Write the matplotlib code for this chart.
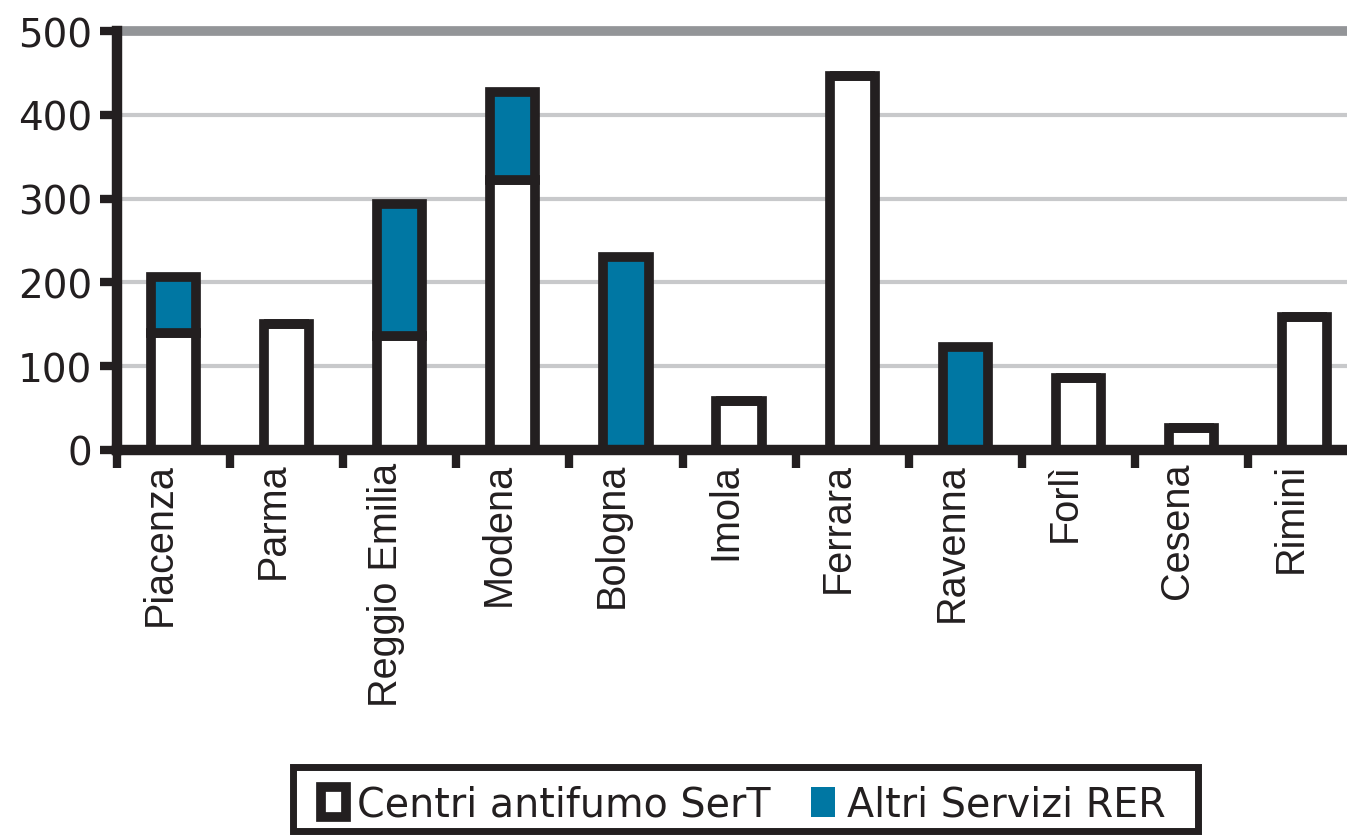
import matplotlib
matplotlib.use("Agg")
import matplotlib.pyplot as plt
from matplotlib.patches import Patch, Rectangle
from matplotlib.transforms import ScaledTranslation
import numpy as np

plt.rcParams['font.family'] = ['DejaVu Sans']

categories = ["Piacenza", "Parma", "Reggio Emilia", "Modena", "Bologna", "Imola",
              "Ferrara", "Ravenna", "Forlì", "Cesena", "Rimini"]
centri_sert = [140, 150, 136, 322, 0, 58, 446, 0, 86, 26, 159]
altri_rer = [66, 0, 157, 105, 230, 0, 0, 123, 0, 0, 0]
series_names = ["Centri antifumo SerT", "Altri Servizi RER"]
yticks = [0, 100, 200, 300, 400, 500]

dark = "#231f20"
blue = "#0077a3"

W, H = 1347, 837
fig = plt.figure(figsize=(W / 100, H / 100), dpi=100)
ax = fig.add_axes([117 / W, 1 - 451 / H, 1 - 117 / W, (451 - 32) / H])

x = np.arange(len(categories))
bw = 0.40
lw = 7.0
ax.bar(x, centri_sert, width=bw, color="white", edgecolor=dark, linewidth=lw, zorder=3)
ax.bar(x, altri_rer, width=bw, bottom=centri_sert, color=blue, edgecolor=dark, linewidth=lw, zorder=3)

ax.set_ylim(0, 500)
ax.set_xlim(-0.5, (W - 117) / 113.1 - 0.5)

# grid
for v in yticks[1:-1]:
    ax.axhline(v, color="#c8c9cb", linewidth=3.0, zorder=1)
ax.axhline(500, color="#939598", linewidth=7.0, zorder=1, clip_on=False)

for s in ["top", "right"]:
    ax.spines[s].set_visible(False)
for s in ["left", "bottom"]:
    ax.spines[s].set_color(dark)
    ax.spines[s].set_linewidth(7.5)
    ax.spines[s].set_zorder(4)

ax.set_yticks(yticks)
ax.set_yticklabels([str(v) for v in yticks])
ax.tick_params(axis="y", length=12, width=6, color=dark, labelsize=28, labelcolor=dark, pad=6)

ax.set_xticks(x)
ax.set_xticklabels(categories, rotation=90, rotation_mode="anchor", ha="right", va="baseline",
                   family=["Liberation Sans"], fontsize=28.5)
ax.tick_params(axis="x", which="major", length=0, labelcolor=dark, pad=8.5)
shift = ScaledTranslation(-3 / 100, 0, fig.dpi_scale_trans)
for lab in ax.get_xticklabels():
    lab.set_transform(lab.get_transform() + shift)
ax.set_xticks(np.arange(-0.5, len(categories) - 0.5, 1), minor=True)
ax.tick_params(axis="x", which="minor", length=13, width=6, color=dark)

# legend
frame = Rectangle((293 / W, 1 - 832 / H), (1198 - 293) / W, (832 - 768) / H,
                  transform=fig.transFigure, facecolor="white", edgecolor=dark,
                  linewidth=5, zorder=1)
fig.patches.append(frame)
handles = [Patch(facecolor="white", edgecolor=dark, linewidth=7),
           Patch(facecolor=blue, edgecolor=blue, linewidth=0)]
leg = fig.legend(handles, series_names, loc="center left", bbox_to_anchor=(321 / W, 1 - 806 / H),
                 ncol=2, fontsize=28.5, frameon=False, handlelength=0.62,
                 handleheight=0.78, handletextpad=0.3, columnspacing=1.0,
                 borderpad=0.0, borderaxespad=0.0, labelcolor=dark)
leg.set_zorder(2)

fig.savefig("out.png", dpi=100)
